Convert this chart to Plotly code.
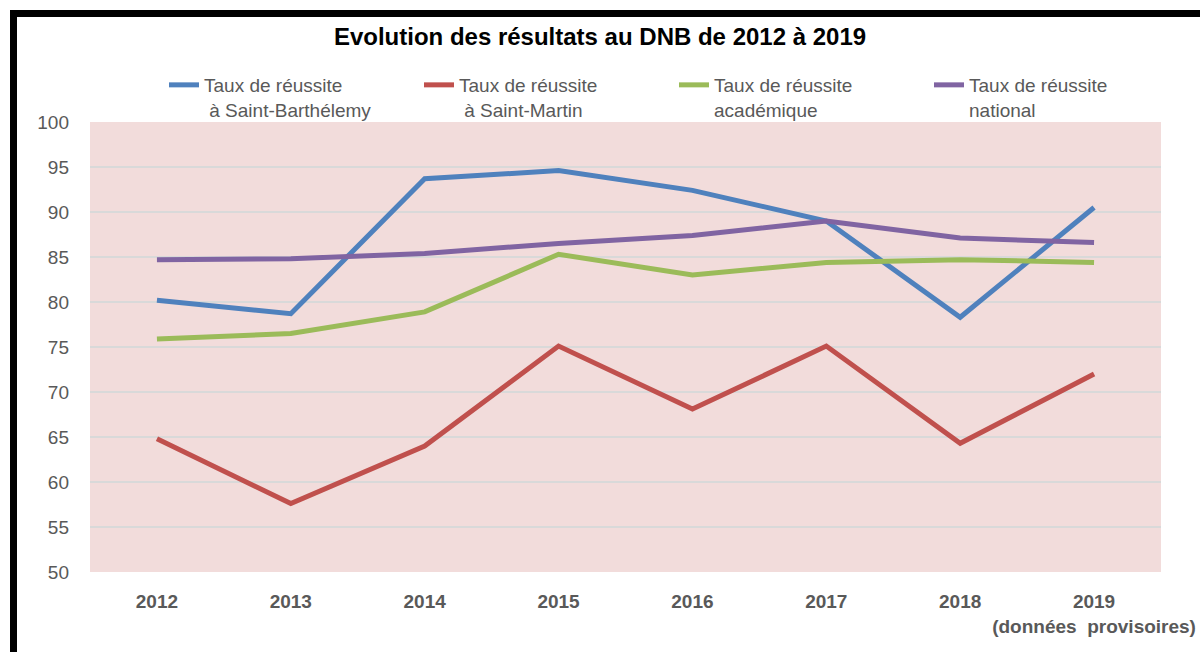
import plotly.graph_objects as go

years = ["2012", "2013", "2014", "2015", "2016", "2017", "2018", "2019"]
tick_labels = ["2012", "2013", "2014", "2015", "2016", "2017", "2018",
               "2019<br>(données  provisoires)"]

st_barth = [80.2, 78.7, 93.7, 94.6, 92.4, 89.0, 78.3, 90.5]
st_martin = [64.8, 57.6, 64.0, 75.1, 68.1, 75.1, 64.3, 72.0]
academique = [75.9, 76.5, 78.9, 85.3, 83.0, 84.4, 84.7, 84.4]
national = [84.7, 84.8, 85.4, 86.5, 87.4, 89.0, 87.1, 86.6]

series_names = [
    "Taux de réussite<br> à Saint-Barthélemy",
    "Taux de réussite<br> à Saint-Martin",
    "Taux de réussite<br>académique",
    "Taux de réussite<br>national",
]
series_values = [st_barth, st_martin, academique, national]
colors = ["#4F81BD", "#C0504D", "#9BBB59", "#8064A2"]

FONT = "Liberation Sans"

fig = go.Figure()
for name, vals, col in zip(series_names, series_values, colors):
    fig.add_trace(go.Scatter(
        x=years, y=vals, name=name, mode="lines",
        line=dict(color=col, width=5),
    ))

W, H = 1200, 652
ml, mr, mt, mb = 90, 39, 122, 80
pw, ph = W - ml - mr, H - mt - mb

def px_x(px):
    return (px - ml) / pw

def px_y(py):
    return (H - mb - py) / ph

fig.update_layout(
    width=W, height=H,
    margin=dict(l=ml, r=mr, t=mt, b=mb, pad=0, autoexpand=False),
    paper_bgcolor="white",
    plot_bgcolor="#F2DCDB",
    title=dict(
        text="<b>Evolution des résultats au DNB de 2012 à 2019</b>",
        x=0.5, xanchor="center", y=1 - 37 / H, yanchor="middle",
        font=dict(family=FONT, size=24, color="black"),
    ),
    legend=dict(
        orientation="h",
        x=px_x(164), xanchor="left",
        y=px_y(66), yanchor="top",
        font=dict(family=FONT, size=19, color="#595959"),
        valign="top",
        entrywidth=210,
        bgcolor="rgba(0,0,0,0)",
    ),
    xaxis=dict(
        type="category",
        range=[-0.5, 7.5],
        tickvals=years, ticktext=tick_labels,
        showgrid=False, zeroline=False,
        showline=False, ticks="",
        automargin=False,
        tickfont=dict(family=FONT, size=19, color="#595959", weight="bold"),
        ticklabelstandoff=16,
    ),
    yaxis=dict(
        range=[50, 100], dtick=5,
        showgrid=True, gridcolor="#D9D9D9", gridwidth=2,
        zeroline=False, showline=False, ticks="",
        automargin=False,
        tickfont=dict(family=FONT, size=19, color="#595959"),
        ticklabelstandoff=20,
    ),
    showlegend=True,
)

# black frame (top and left edges of the outer chart border)
fig.add_shape(type="rect", xref="paper", yref="paper",
              x0=px_x(10), x1=px_x(17), y0=px_y(660), y1=px_y(10),
              fillcolor="black", line=dict(width=0), layer="above")
fig.add_shape(type="rect", xref="paper", yref="paper",
              x0=px_x(10), x1=px_x(1205), y0=px_y(17), y1=px_y(10),
              fillcolor="black", line=dict(width=0), layer="above")

fig.write_html("out.html",
               config={"displayModeBar": False},
               post_script="document.body.style.margin='0';")
